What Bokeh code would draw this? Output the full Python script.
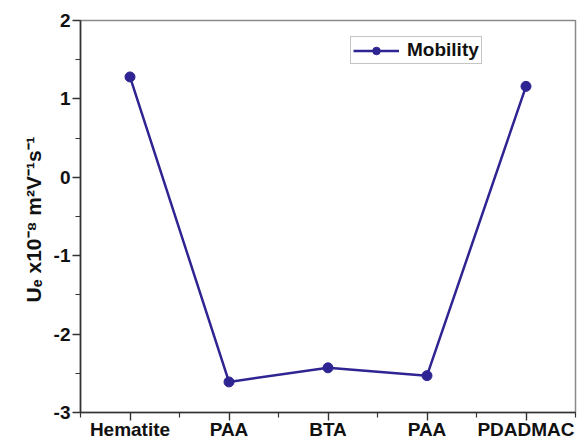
from bokeh.plotting import figure
from bokeh.models import FixedTicker, Range1d, Legend, LegendItem
from bokeh.embed import file_html
from bokeh.resources import INLINE

# Electrophoretic mobility after each adsorption step
samples = ["Hematite", "PAA", "BTA", "PAA", "PDADMAC"]
mobility = [1.28, -2.61, -2.43, -2.53, 1.16]
y_ticks = [-3, -2, -1, 0, 1, 2]

positions = list(range(1, len(samples) + 1))

FONT = "Liberation Sans"
LINE = "#2f2592"
TXT = "#111111"

p = figure(width=577, height=442, output_backend="svg", toolbar_location=None,
           x_range=Range1d(0.5, len(samples) + 0.5), y_range=Range1d(-3, 2),
           min_border_left=80, min_border_right=2, min_border_top=20,
           min_border_bottom=29)
p.background_fill_color = "white"
p.border_fill_color = "white"
p.outline_line_color = "#8a8a8a"
p.outline_line_width = 1.5
p.xgrid.visible = False
p.ygrid.visible = False

line = p.line(positions, mobility, line_color=LINE, line_width=2.5)
dots = p.scatter(positions, mobility, size=10, fill_color=LINE, line_color=LINE)

# x axis: one tick per sample, minor ticks half way between
xa = p.xaxis[0]
xa.ticker = FixedTicker(ticks=positions,
                        minor_ticks=[i + 0.5 for i in range(0, len(samples) + 1)])
xa.major_label_overrides = {i: s for i, s in zip(positions, samples)}

ya = p.yaxis[0]
ya.ticker = FixedTicker(ticks=y_ticks,
                        minor_ticks=[t + 0.5 for t in y_ticks[:-1]])
ya.major_label_overrides = {t: str(t) for t in y_ticks}
ya.major_label_standoff = 2
ya.axis_label = "Uₑ x10⁻⁸  m²V⁻¹s⁻¹"
ya.axis_label_standoff = 6

for ax in (xa, ya):
    ax.axis_line_color = "#333333"
    ax.axis_line_width = 1.6
    ax.major_tick_line_color = "#333333"
    ax.minor_tick_line_color = "#333333"
    ax.major_tick_line_width = 1.4
    ax.minor_tick_line_width = 1.2
    ax.major_tick_in = 0
    ax.major_tick_out = 8
    ax.minor_tick_in = 0
    ax.minor_tick_out = 5
    ax.major_label_text_font = FONT
    ax.major_label_text_font_style = "bold"
    ax.major_label_text_font_size = "19px"
    ax.major_label_text_color = TXT
    ax.axis_label_text_font = FONT
    ax.axis_label_text_font_style = "bold"
    ax.axis_label_text_font_size = "21px"
    ax.axis_label_text_color = TXT
xa.major_label_standoff = -2

legend = Legend(items=[LegendItem(label="Mobility", renderers=[line, dots])],
                location=(270, 348), padding=2, margin=0, spacing=0,
                glyph_width=46, glyph_height=19, label_height=19,
                label_standoff=8,
                label_text_font=FONT, label_text_font_style="bold",
                label_text_font_size="19px", label_text_color=TXT,
                border_line_color="#8a8a8a", border_line_width=1,
                background_fill_alpha=1.0)
p.add_layout(legend, "center")

open("out.html", "w").write(file_html(p, INLINE))
